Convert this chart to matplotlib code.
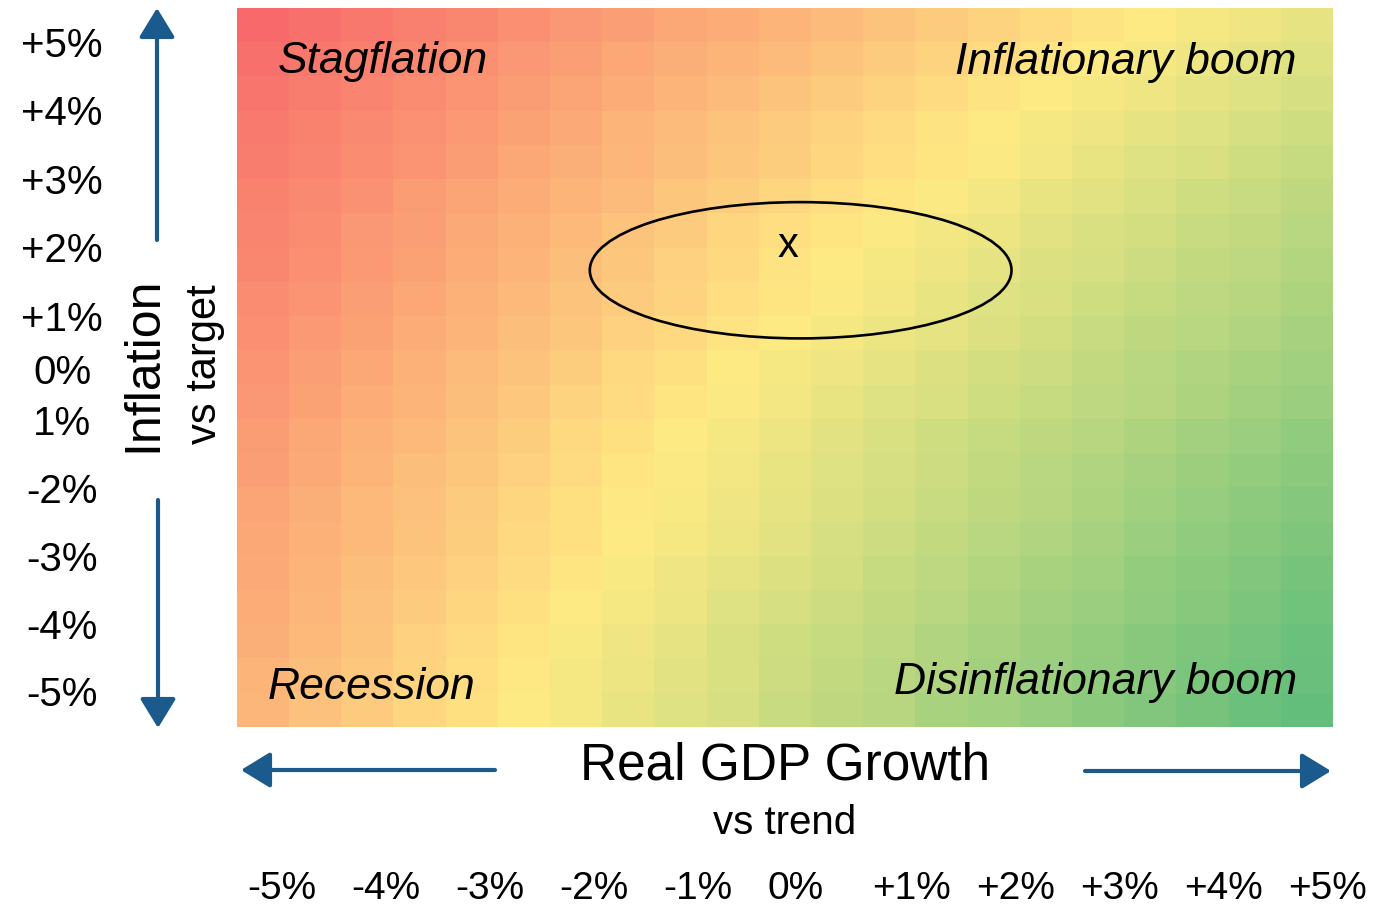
import numpy as np
import matplotlib
matplotlib.use("Agg")
import matplotlib.pyplot as plt
from matplotlib.colors import LinearSegmentedColormap
from matplotlib.patches import Ellipse, FancyArrowPatch

plt.rcParams['font.family'] = ['Liberation Sans', 'DejaVu Sans']

# grid centres (% vs trend / % vs target)
growth = [-5.0, -4.5, -4.0, -3.5, -3.0, -2.5, -2.0, -1.5, -1.0, -0.5, 0.0,
          0.5, 1.0, 1.5, 2.0, 2.5, 3.0, 3.5, 4.0, 4.5, 5.0]
inflation = [5.0, 4.5, 4.0, 3.5, 3.0, 2.5, 2.0, 1.5, 1.0, 0.5, 0.0,
             -0.5, -1.0, -1.5, -2.0, -2.5, -3.0, -3.5, -4.0, -4.5, -5.0]

# colour-scale score per cell (0 = red, 50 = yellow, 100 = green), rows top -> bottom
score = [
    [0, 3, 6, 9, 12, 15, 18, 21, 24, 26, 29, 32, 35, 38, 41, 44, 47, 50, 53, 55, 58],
    [3, 6, 9, 12, 15, 18, 21, 24, 27, 29, 32, 35, 38, 41, 44, 47, 50, 53, 55, 58, 60],
    [5, 8, 11, 14, 17, 20, 23, 26, 29, 32, 35, 38, 41, 44, 47, 50, 53, 55, 58, 60, 63],
    [7, 10, 13, 16, 19, 22, 25, 29, 32, 35, 38, 41, 44, 47, 50, 53, 55, 58, 60, 63, 65],
    [8, 11, 14, 17, 20, 24, 27, 30, 33, 36, 39, 42, 45, 48, 51, 54, 57, 60, 62, 65, 68],
    [10, 13, 16, 20, 23, 26, 29, 32, 36, 39, 42, 45, 48, 51, 54, 57, 59, 62, 65, 67, 70],
    [11, 14, 18, 21, 25, 28, 31, 35, 38, 42, 45, 48, 51, 54, 56, 59, 62, 64, 67, 69, 72],
    [12, 15, 19, 22, 26, 29, 33, 36, 40, 43, 47, 50, 53, 55, 58, 61, 63, 66, 69, 71, 74],
    [14, 17, 21, 24, 28, 31, 35, 38, 41, 45, 48, 51, 54, 57, 60, 62, 65, 68, 71, 73, 76],
    [15, 19, 22, 26, 29, 33, 36, 40, 43, 47, 50, 53, 56, 58, 61, 64, 67, 70, 72, 75, 78],
    [17, 21, 24, 28, 32, 35, 39, 43, 46, 50, 53, 55, 58, 61, 64, 66, 69, 72, 75, 77, 80],
    [18, 22, 26, 29, 33, 37, 41, 44, 48, 51, 54, 57, 60, 62, 65, 68, 71, 73, 76, 79, 82],
    [20, 24, 28, 31, 35, 39, 43, 46, 50, 53, 56, 59, 62, 65, 68, 70, 73, 76, 79, 82, 85],
    [21, 25, 29, 33, 36, 40, 44, 48, 51, 54, 57, 60, 63, 66, 69, 72, 75, 78, 81, 84, 87],
    [23, 27, 31, 34, 38, 42, 46, 49, 52, 55, 58, 61, 64, 67, 70, 73, 76, 80, 83, 86, 89],
    [24, 28, 31, 35, 39, 43, 46, 50, 53, 56, 59, 63, 66, 69, 72, 75, 78, 82, 85, 88, 91],
    [25, 29, 33, 37, 40, 44, 48, 52, 55, 58, 61, 64, 68, 71, 74, 77, 80, 84, 87, 90, 93],
    [26, 30, 34, 38, 42, 46, 50, 53, 56, 60, 63, 66, 69, 72, 76, 79, 82, 85, 88, 92, 95],
    [27, 31, 35, 40, 44, 48, 52, 55, 58, 62, 65, 68, 71, 75, 78, 81, 84, 88, 91, 94, 97],
    [29, 33, 37, 41, 45, 49, 53, 56, 59, 62, 66, 69, 72, 75, 79, 82, 85, 88, 92, 95, 98],
    [30, 34, 38, 42, 46, 50, 53, 57, 60, 63, 67, 70, 73, 77, 80, 83, 87, 90, 93, 97, 100],
]

x_labels = ['-5%', '-4%', '-3%', '-2%', '-1%', '0%', '+1%', '+2%', '+3%', '+4%', '+5%']
y_labels = ['+5%', '+4%', '+3%', '+2%', '+1%', '0%', '1%', '-2%', '-3%', '-4%', '-5%']

quadrants = ['Stagflation', 'Inflationary boom', 'Recession', 'Disinflationary boom']

# current position estimate and its uncertainty band
est_growth, est_inflation = 0.03, 1.78
band_growth, band_inflation = 0.15, 1.42
band_width, band_height = 4.04, 1.99

# layout (figure pixels, origin top-left)
W, H = 1398, 910
x_label_px = [282, 386, 490, 594, 698, 796, 912, 1016, 1120, 1224, 1328]
y_label_px = [43, 111, 180, 248, 317, 370, 421, 489, 557, 625, 692]
arrow_blue = '#1b5a8c'

fig = plt.figure(figsize=(W / 100, H / 100), dpi=100)
ax = fig.add_axes([237 / W, 1 - 727 / H, 1096 / W, 719 / H])

cmap = LinearSegmentedColormap.from_list('excel3', ['#F8696B', '#FFEB84', '#63BE7B'])
step = growth[1] - growth[0]
ext = [growth[0] - step / 2, growth[-1] + step / 2,
       inflation[-1] - step / 2, inflation[0] + step / 2]
ax.imshow(np.array(score), cmap=cmap, vmin=0, vmax=100, extent=ext,
          aspect='auto', interpolation='nearest', origin='upper')
ax.set_xlim(ext[0], ext[1])
ax.set_ylim(ext[2], ext[3])
ax.axis('off')

# quadrant names
qkw = dict(fontsize=32, style='italic', transform=ax.transAxes, va='center')
ax.text(0.037, 0.926, quadrants[0], ha='left', **qkw)
ax.text(0.967, 0.924, quadrants[1], ha='right', **qkw)
ax.text(0.028, 0.055, quadrants[2], ha='left', **qkw)
ax.text(0.967, 0.062, quadrants[3], ha='right', **qkw)

# ellipse + x
ax.add_patch(Ellipse((band_growth, band_inflation), band_width, band_height,
                     fill=False, edgecolor='black', lw=1.9))
ax.text(est_growth, est_inflation, 'x', fontsize=30, ha='center', va='center')

# tick labels
for lab, px in zip(x_labels, x_label_px):
    fig.text(px / W, 1 - 889 / H, lab, fontsize=28, ha='center', va='center')
for lab, py in zip(y_labels, y_label_px):
    fig.text(62 / W, 1 - (py + 3) / H, lab, fontsize=29, ha='center', va='center')

# axis titles
fig.text(785 / W, 1 - 766 / H, 'Real GDP Growth', fontsize=37, ha='center', va='center')
fig.text(785 / W, 1 - 823 / H, 'vs trend', fontsize=29, ha='center', va='center')
fig.text(143 / W, 1 - 364 / H, 'Inflation', fontsize=36, rotation=90, ha='center', va='center')
fig.text(205 / W, 1 - 364 / H, 'vs target', fontsize=30, rotation=90, ha='center', va='center')


def arrow(x0, y0, x1, y1):
    fig.add_artist(FancyArrowPatch(
        (x0 / W, 1 - y0 / H), (x1 / W, 1 - y1 / H), transform=fig.transFigure,
        arrowstyle='-|>,head_length=0.9,head_width=0.55', mutation_scale=20,
        color=arrow_blue, lw=3, shrinkA=0, shrinkB=0))


arrow(157, 240, 157, 8)
arrow(158, 500, 158, 728)
arrow(495, 770, 241, 770)
arrow(1085, 771, 1331, 771)

plt.savefig('out.png', dpi=100)
